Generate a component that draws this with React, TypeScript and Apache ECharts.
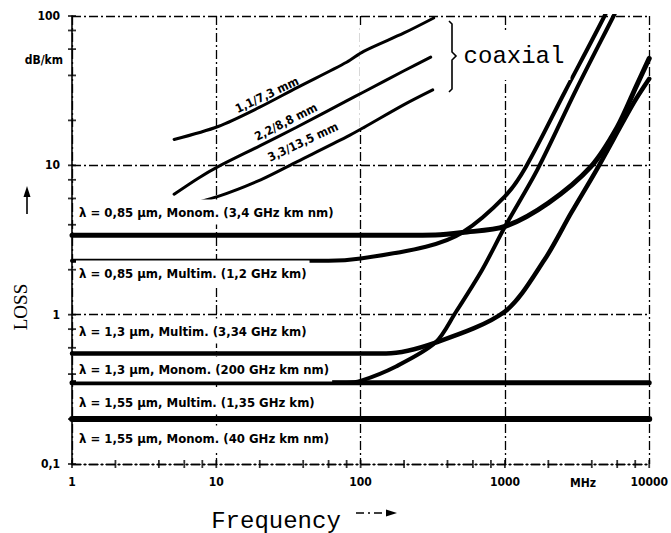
import React, { useEffect, useRef } from "react";
import * as echarts from "echarts";

// Axis tick labels (log decades)
const xTickLabels = ["1", "10", "100", "1000", "10000"];
const yTickLabels = ["0,1", "1", "10", "100"];

// Tick marks along the axes (2, 4, 6, 8 within each decade plus the decades)
const xTickMarks = [1, 2, 4, 6, 8, 10, 20, 40, 60, 80, 100, 200, 400, 600, 800, 1000, 2000, 4000, 6000, 8000, 10000];
const yTickMarks = [0.1, 0.2, 0.4, 0.6, 0.8, 1, 2, 4, 6, 8, 10, 20, 40, 60, 80, 100];

// Coaxial cables: attenuation (dB/km) against frequency (MHz)
const coax11: number[][] = [[5.1, 14.9], [10.3, 18.2], [20, 24.5], [36, 33], [80, 49], [105, 58], [200, 77], [321, 97]];
const coax22: number[][] = [[5.1, 6.4], [7.5, 8.2], [10.3, 9.8], [20, 13.5], [36, 18], [80, 27], [105, 31], [200, 43], [306, 53]];
const coax33: number[][] = [[5.2, 5.2], [10.3, 6.2], [20.3, 8.0], [36.4, 10.6], [80, 15.5], [105, 17.9], [200, 25.5], [316, 32]];

// Optical fibres: attenuation (dB/km) including bandwidth penalty
const f085Monom: number[][] = [[1, 3.4], [100, 3.4], [330, 3.42], [507, 3.55], [1000, 3.9], [2000, 5.6], [3944, 9.8], [6000, 18], [8150, 34], [10000, 52]];
const f085Multim: number[][] = [[1, 2.3], [60, 2.3], [100, 2.38], [283, 2.85], [507, 3.55], [1000, 6.2], [1400, 9.8], [2600, 31], [4900, 100], [5500, 130]];
const f13Multim: number[][] = [[1, 0.55], [150, 0.55], [330, 0.65], [1000, 1.05], [1880, 2.33], [2877, 4.8], [4334, 9.4], [7770, 26], [10000, 38]];
const f13Monom: number[][] = [[1, 0.35], [10000, 0.35]];
const f155Multim: number[][] = [[1, 0.35], [80, 0.35], [100, 0.36], [176, 0.45], [330, 0.65], [454, 1.03], [696, 2.0], [1000, 3.88], [1683, 9.4], [3112, 32], [5666, 100], [6500, 130]];
const f155Monom: number[][] = [[1, 0.2], [10000, 0.2]];

const fibreLabels = [
  "λ = 0,85 µm, Monom. (3,4 GHz km nm)",
  "λ = 0,85 µm, Multim. (1,2 GHz km)",
  "λ = 1,3 µm, Multim. (3,34 GHz km)",
  "λ = 1,3 µm, Monom. (200 GHz km nm)",
  "λ = 1,55 µm, Multim. (1,35 GHz km)",
  "λ = 1,55 µm, Monom. (40 GHz km nm)",
];
const coaxLabels = ["1,1/7,3 mm", "2,2/8,8 mm", "3,3/13,5 mm"];

const NARROW = "'Liberation Sans Narrow', 'DejaVu Sans Condensed', 'Roboto Condensed', 'Liberation Sans', sans-serif";
const MONO = "'Liberation Mono', 'DejaVu Sans Mono', monospace";
const dashDot = [9, 3, 2, 3];

function curve(name: string, data: number[][], width: number) {
  return {
    name,
    type: "line",
    data,
    symbol: "none",
    smooth: 0.3,
    clip: true,
    z: 3,
    lineStyle: { color: "#000", width, cap: "round" },
  };
}

export default function App() {
  const ref = useRef<HTMLDivElement>(null);

  useEffect(() => {
    if (!ref.current) return;
    const chart = echarts.init(ref.current, undefined, { renderer: "svg" });

    const labelYs = [212, 273, 331, 369, 402, 438];
    const coaxPos = [
      [267, 95, 0.44],
      [286, 122, 0.47],
      [303, 142, 0.44],
    ];

    const graphic: any[] = [
      // the 100 MHz grid line is left open behind the coaxial curves
      {
        type: "rect",
        z: 2,
        shape: { x: 360, y: 26, width: 8, height: 102 },
        style: { fill: "#fff" },
      },
      ...fibreLabels.map((t, i) => ({
        type: "text",
        x: 76,
        y: labelYs[i],
        z: 5,
        style: {
          text: t,
          font: `bold 13px ${NARROW}`,
          fill: "#000",
          textVerticalAlign: "middle",
          backgroundColor: "#fff",
          padding: [6, 3, 6, 3],
        },
      })),
      ...coaxLabels.map((t, i) => ({
        type: "text",
        x: coaxPos[i][0],
        y: coaxPos[i][1],
        rotation: coaxPos[i][2],
        z: 5,
        style: {
          text: t,
          font: `bold 12px ${NARROW}`,
          fill: "#000",
          textAlign: "center",
          textVerticalAlign: "middle",
        },
      })),
      {
        type: "text",
        x: 514,
        y: 56,
        z: 5,
        style: {
          text: "coaxial",
          font: `24px ${MONO}`,
          fill: "#000",
          textAlign: "center",
          textVerticalAlign: "middle",
          backgroundColor: "#fff",
          padding: [12, 6, 12, 6],
        },
      },
      {
        type: "polyline",
        z: 6,
        shape: { points: [[449, 21], [452, 24], [452, 52], [456, 56], [452, 60], [452, 89], [449, 92]] },
        style: { stroke: "#000", lineWidth: 1.6, fill: null },
      },
      {
        type: "text",
        x: 63,
        y: 60,
        style: { text: "dB/km", font: `bold 12px ${NARROW}`, fill: "#000", textAlign: "right", textVerticalAlign: "middle" },
      },
      {
        type: "text",
        x: 583,
        y: 483,
        style: { text: "MHz", font: `bold 12px ${NARROW}`, fill: "#000", textAlign: "center", textVerticalAlign: "middle" },
      },
      {
        type: "text",
        x: 276,
        y: 521,
        style: { text: "Frequency", font: `24px ${MONO}`, fill: "#000", textAlign: "center", textVerticalAlign: "middle" },
      },
      {
        type: "line",
        shape: { x1: 356, y1: 513, x2: 388, y2: 513 },
        style: { stroke: "#000", lineWidth: 1.5, lineDash: [8, 4, 2, 4] },
      },
      {
        type: "polygon",
        shape: { points: [[386, 509.5], [397, 513], [386, 516.5]] },
        style: { fill: "#000" },
      },
      {
        type: "text",
        x: 20,
        y: 307,
        rotation: Math.PI / 2,
        style: { text: "LOSS", font: `19px 'Liberation Serif', serif`, fill: "#000", textAlign: "center", textVerticalAlign: "middle" },
      },
      {
        type: "line",
        shape: { x1: 27, y1: 214, x2: 27, y2: 195 },
        style: { stroke: "#000", lineWidth: 1.6 },
      },
      {
        type: "polygon",
        shape: { points: [[23.5, 197], [27, 186], [30.5, 197]] },
        style: { fill: "#000" },
      },
    ];

    chart.setOption({
      animation: false,
      backgroundColor: "#fff",
      grid: { left: 72, right: 15, top: 16, bottom: 69, show: false },
      xAxis: {
        type: "log",
        logBase: 10,
        min: 1,
        max: 10000,
        axisLine: { show: true, lineStyle: { color: "#000", width: 1.4, type: dashDot } },
        axisTick: { show: false },
        axisLabel: {
          color: "#000",
          margin: 12,
          fontFamily: NARROW,
          fontWeight: "bold",
          fontSize: 12,
          formatter: (v: number) => xTickLabels[Math.round(Math.log10(v))] ?? "",
        },
        splitLine: { show: true, lineStyle: { color: "#000", width: 1.3, type: dashDot } },
      },
      yAxis: {
        type: "log",
        logBase: 10,
        min: 0.1,
        max: 100,
        axisLine: { show: true, lineStyle: { color: "#000", width: 1.6 } },
        axisTick: { show: false },
        axisLabel: {
          color: "#000",
          margin: 12,
          fontFamily: NARROW,
          fontWeight: "bold",
          fontSize: 12,
          formatter: (v: number) => yTickLabels[Math.round(Math.log10(v)) + 1] ?? "",
        },
        splitLine: { show: true, lineStyle: { color: "#000", width: 1.3, type: dashDot } },
      },
      graphic,
      series: [
        {
          type: "scatter",
          data: xTickMarks.map((v) => [v, 0.1]),
          symbol: "rect",
          symbolSize: [1.8, 8],
          itemStyle: { color: "#000" },
          clip: false,
          silent: true,
          z: 4,
        },
        {
          type: "scatter",
          data: yTickMarks.map((v) => [1, v]),
          symbol: "rect",
          symbolSize: [8, 1.8],
          itemStyle: { color: "#000" },
          clip: false,
          silent: true,
          z: 4,
        },
        curve("1,1/7,3 mm", coax11, 3),
        curve("2,2/8,8 mm", coax22, 3),
        curve("3,3/13,5 mm", coax33, 3),
        curve("0,85 Monom", f085Monom, 5),
        curve("0,85 Multim", f085Multim, 4),
        curve("1,3 Multim", f13Multim, 4.5),
        curve("1,3 Monom", f13Monom, 5),
        curve("1,55 Multim", f155Multim, 4),
        curve("1,55 Monom", f155Monom, 6),
      ],
    });

    return () => chart.dispose();
  }, []);

  return (
    <div
      ref={ref}
      style={{ position: "fixed", left: 0, top: 0, width: 671, height: 533, background: "#fff" }}
    />
  );
}
